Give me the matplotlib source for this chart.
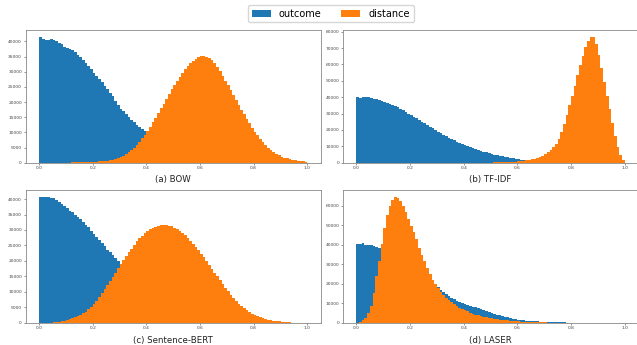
import numpy as np
import matplotlib
matplotlib.use("Agg")
import matplotlib.pyplot as plt
from matplotlib.ticker import MultipleLocator

# bin counts in thousands, 100 bins of width 0.01 from 0 to 1
bow_outcome = [
    41.6, 40.8, 40.5, 40.6, 40.7, 40.5, 40.0, 39.6, 39.3, 38.3,
    38.0, 37.6, 37.2, 36.4, 35.6, 34.8, 33.9, 33.0, 31.9, 30.8,
    29.6, 28.5, 27.6, 26.5, 25.4, 24.3, 23.1, 21.9, 20.5, 19.1,
    17.6, 16.9, 16.0, 15.0, 14.0, 13.4, 12.6, 11.8, 11.2, 10.6,
    9.8, 9.0, 8.2, 7.4, 6.7, 6.0, 5.4, 4.8, 4.3, 3.8,
    3.4, 3.0, 2.6, 2.3, 2.0, 1.7, 1.5, 1.3, 1.1, 0.9,
    0.8, 0.7, 0.6, 0.5, 0.4, 0.35, 0.3, 0.25, 0.2, 0.15,
    0.1, 0.1, 0.08, 0.06, 0.05, 0.04, 0.03, 0.02, 0.02, 0.01,
    0, 0, 0, 0, 0, 0, 0, 0, 0, 0,
    0, 0, 0, 0, 0, 0, 0, 0, 0, 0,
]
bow_distance = [
    0, 0, 0, 0, 0, 0, 0, 0, 0, 0.02,
    0.05, 0.05, 0.1, 0.1, 0.1, 0.15, 0.15, 0.2, 0.2, 0.25,
    0.3, 0.35, 0.4, 0.45, 0.55, 0.65, 0.75, 0.9, 1.1, 1.4,
    1.8, 2.3, 2.8, 3.4, 4.2, 5.0, 5.9, 6.9, 8.0, 9.2,
    10.5, 11.9, 13.3, 14.8, 16.3, 17.9, 19.5, 21.1, 22.7, 24.2,
    25.7, 27.1, 28.4, 29.6, 30.8, 31.9, 32.8, 33.6, 34.3, 34.8,
    35.1, 35.2, 35.0, 34.6, 33.8, 32.8, 31.6, 30.2, 28.7, 27.1,
    25.5, 23.9, 22.3, 20.7, 19.1, 17.5, 16.0, 14.5, 13.0, 11.6,
    10.2, 9.0, 7.9, 6.8, 5.9, 5.0, 4.2, 3.6, 3.0, 2.5,
    2.0, 1.7, 1.4, 1.1, 0.9, 0.8, 0.6, 0.5, 0.4, 0.3,
]
tfidf_outcome = [
    40.0, 39.8, 40.0, 39.9, 39.9, 39.6, 39.2, 38.8, 38.3, 37.8,
    37.3, 36.7, 36.1, 35.4, 34.7, 33.9, 33.0, 32.0, 31.0, 30.0,
    29.0, 28.0, 27.0, 26.0, 25.0, 24.0, 23.0, 22.0, 21.0, 20.0,
    19.0, 18.0, 17.1, 16.2, 15.3, 14.5, 13.7, 12.9, 12.2, 11.5,
    10.8, 10.1, 9.5, 8.9, 8.3, 7.8, 7.3, 6.8, 6.3, 5.8,
    5.4, 5.0, 4.6, 4.2, 3.8, 3.5, 3.2, 2.9, 2.6, 2.3,
    2.0, 1.7, 1.4, 1.2, 1.0, 0.8, 0.6, 0.45, 0.35, 0.25,
    0.18, 0.12, 0.08, 0.05, 0.03, 0.02, 0.01, 0, 0, 0,
    0, 0, 0, 0, 0, 0, 0, 0, 0, 0,
    0, 0, 0, 0, 0, 0, 0, 0, 0, 0,
]
tfidf_distance = [
    0, 0, 0, 0, 0, 0, 0, 0, 0, 0,
    0, 0, 0, 0, 0, 0, 0, 0, 0, 0,
    0, 0, 0, 0, 0, 0, 0, 0, 0, 0,
    0, 0, 0, 0, 0, 0, 0, 0, 0, 0,
    0, 0, 0, 0, 0, 0.05, 0.05, 0.08, 0.1, 0.1,
    0.12, 0.15, 0.18, 0.2, 0.25, 0.3, 0.35, 0.4, 0.5, 0.6,
    0.8, 1.0, 1.2, 1.5, 1.8, 2.1, 2.5, 3.0, 3.6, 4.3,
    5.2, 6.3, 7.6, 9.3, 11.5, 14.5, 18.5, 23.5, 29.0, 35.0,
    41.0, 47.0, 53.5, 59.5, 65.0, 70.5, 74.5, 77.0, 76.5, 72.5,
    66.0, 58.0, 49.5, 41.0, 32.5, 24.0, 16.0, 9.5, 4.5, 1.5,
]
sbert_outcome = [
    40.8, 40.8, 40.8, 40.7, 40.5, 40.2, 39.6, 39.0, 38.5, 37.9,
    37.0, 36.3, 35.8, 35.0, 34.3, 33.6, 32.6, 31.7, 30.9, 29.8,
    28.8, 27.8, 26.6, 25.8, 24.8, 23.5, 22.8, 21.8, 21.0, 20.0,
    18.5, 17.5, 16.5, 15.5, 14.5, 13.5, 12.6, 11.7, 10.8, 10.0,
    9.2, 8.4, 7.7, 7.0, 6.3, 5.7, 5.1, 4.6, 4.1, 3.6,
    3.2, 2.8, 2.4, 2.1, 1.8, 1.5, 1.3, 1.1, 0.9, 0.7,
    0.6, 0.5, 0.4, 0.3, 0.25, 0.2, 0.15, 0.1, 0.08, 0.05,
    0, 0, 0, 0, 0, 0, 0, 0, 0, 0,
    0, 0, 0, 0, 0, 0, 0, 0, 0, 0,
    0, 0, 0, 0, 0, 0, 0, 0, 0, 0,
]
sbert_distance = [
    0, 0, 0, 0, 0.05, 0.1, 0.2, 0.3, 0.4, 0.6,
    0.8, 1.1, 1.4, 1.7, 2.1, 2.5, 3.0, 3.6, 4.3, 5.1,
    6.0, 7.0, 8.2, 9.5, 10.8, 12.1, 13.4, 14.8, 16.2, 17.6,
    19.0, 20.4, 21.6, 22.8, 24.0, 25.2, 26.3, 27.3, 28.2, 29.0,
    29.6, 30.2, 30.7, 31.0, 31.3, 31.5, 31.6, 31.5, 31.4, 31.2,
    30.8, 30.3, 29.7, 29.0, 28.3, 27.4, 26.5, 25.5, 24.5, 23.4,
    22.3, 21.2, 20.0, 18.8, 17.5, 16.2, 15.0, 13.7, 12.5, 11.3,
    10.1, 9.0, 8.0, 7.0, 6.1, 5.3, 4.6, 4.0, 3.4, 2.9,
    2.5, 2.1, 1.8, 1.5, 1.2, 1.0, 0.8, 0.6, 0.5, 0.4,
    0.3, 0.2, 0.15, 0.1, 0.05, 0.05, 0, 0, 0, 0,
]
laser_outcome = [
    40.2, 40.3, 40.9, 40.0, 39.9, 39.8, 39.5, 39.0, 38.2, 37.5,
    36.5, 35.5, 34.5, 33.5, 32.5, 31.5, 30.5, 29.5, 28.5, 27.5,
    26.5, 25.5, 24.5, 23.5, 22.5, 21.6, 20.7, 19.9, 19.2, 18.8,
    18.3, 17.0, 15.9, 14.8, 13.8, 12.9, 12.1, 11.4, 10.8, 10.3,
    9.8, 9.3, 8.8, 8.3, 7.9, 7.4, 7.0, 6.6, 6.1, 5.7,
    5.2, 4.7, 4.2, 3.8, 3.4, 3.0, 2.7, 2.4, 2.1, 1.8,
    1.6, 1.4, 1.25, 1.1, 0.95, 0.85, 0.75, 0.65, 0.55, 0.48,
    0.42, 0.37, 0.32, 0.27, 0.23, 0.19, 0.15, 0.12, 0.1, 0.05,
    0, 0, 0, 0, 0, 0, 0, 0, 0, 0,
    0, 0, 0, 0, 0, 0, 0, 0, 0, 0,
]
laser_distance = [
    0, 0.5, 1.2, 2.5, 4.8, 8.5, 15.5, 24.0, 31.5, 40.5,
    48.5, 55.5, 60.0, 63.0, 64.8, 64.2, 62.5, 60.0, 57.0, 53.5,
    49.5, 46.5, 43.0, 38.5, 35.0, 31.5, 28.0, 25.0, 22.2, 19.8,
    17.6, 15.8, 14.3, 12.9, 11.6, 10.4, 9.4, 8.5, 7.7, 7.0,
    6.4, 5.8, 5.2, 4.7, 4.2, 3.8, 3.4, 3.1, 2.8, 2.5,
    2.3, 2.0, 1.8, 1.6, 1.5, 1.3, 1.2, 1.0, 0.9, 0.8,
    0.7, 0.6, 0.55, 0.5, 0.45, 0.4, 0.35, 0.3, 0.25, 0.2,
    0.15, 0.1, 0.08, 0.05, 0.03, 0, 0, 0, 0, 0,
    0, 0, 0, 0, 0, 0, 0, 0, 0, 0,
    0, 0, 0, 0, 0, 0, 0, 0, 0, 0,
]

titles = ["(a) BOW", "(b) TF-IDF", "(c) Sentence-BERT", "(d) LASER"]
outcomes = [bow_outcome, tfidf_outcome, sbert_outcome, laser_outcome]
distances = [bow_distance, tfidf_distance, sbert_distance, laser_distance]
y_steps = [5000, 10000, 5000, 10000]
series_names = ["outcome", "distance"]

edges = np.linspace(0, 1, 101)

fig = plt.figure(figsize=(6.37, 3.45), dpi=100)

# [left, bottom, width, height] in figure fractions
boxes = [
    [0.0404, 0.5284, 0.4631, 0.3838],
    [0.5385, 0.5284, 0.4631, 0.3838],
    [0.0404, 0.0646, 0.4631, 0.3838],
    [0.5385, 0.0646, 0.4631, 0.3838],
]
title_y = [-0.125, -0.125, -0.136, -0.136]

for i in range(4):
    ax = fig.add_axes(boxes[i])
    ax.hist(edges[:-1], bins=edges, weights=np.array(outcomes[i]) * 1000,
            color="tab:blue", label=series_names[0])
    ax.hist(edges[:-1], bins=edges, weights=np.array(distances[i]) * 1000,
            color="tab:orange", label=series_names[1])
    ax.set_xticks([0.0, 0.2, 0.4, 0.6, 0.8, 1.0])
    ax.yaxis.set_major_locator(MultipleLocator(y_steps[i]))
    ax.tick_params(labelsize=3.2, length=1.5, width=0.4, pad=1.2,
                   colors="#444444")
    for sp in ax.spines.values():
        sp.set_linewidth(0.6)
        sp.set_color("#888888")
    ax.text(0.5, title_y[i], titles[i], transform=ax.transAxes,
            ha="center", va="center", fontsize=6.2, color="#222222")

handles, labels = ax.get_legend_handles_labels()
fig.legend(handles, labels, loc="upper center", ncol=2, fontsize=7,
           bbox_to_anchor=(0.519, 0.995), borderaxespad=0.3)

fig.savefig("out.png", dpi=100)
plt.close(fig)
